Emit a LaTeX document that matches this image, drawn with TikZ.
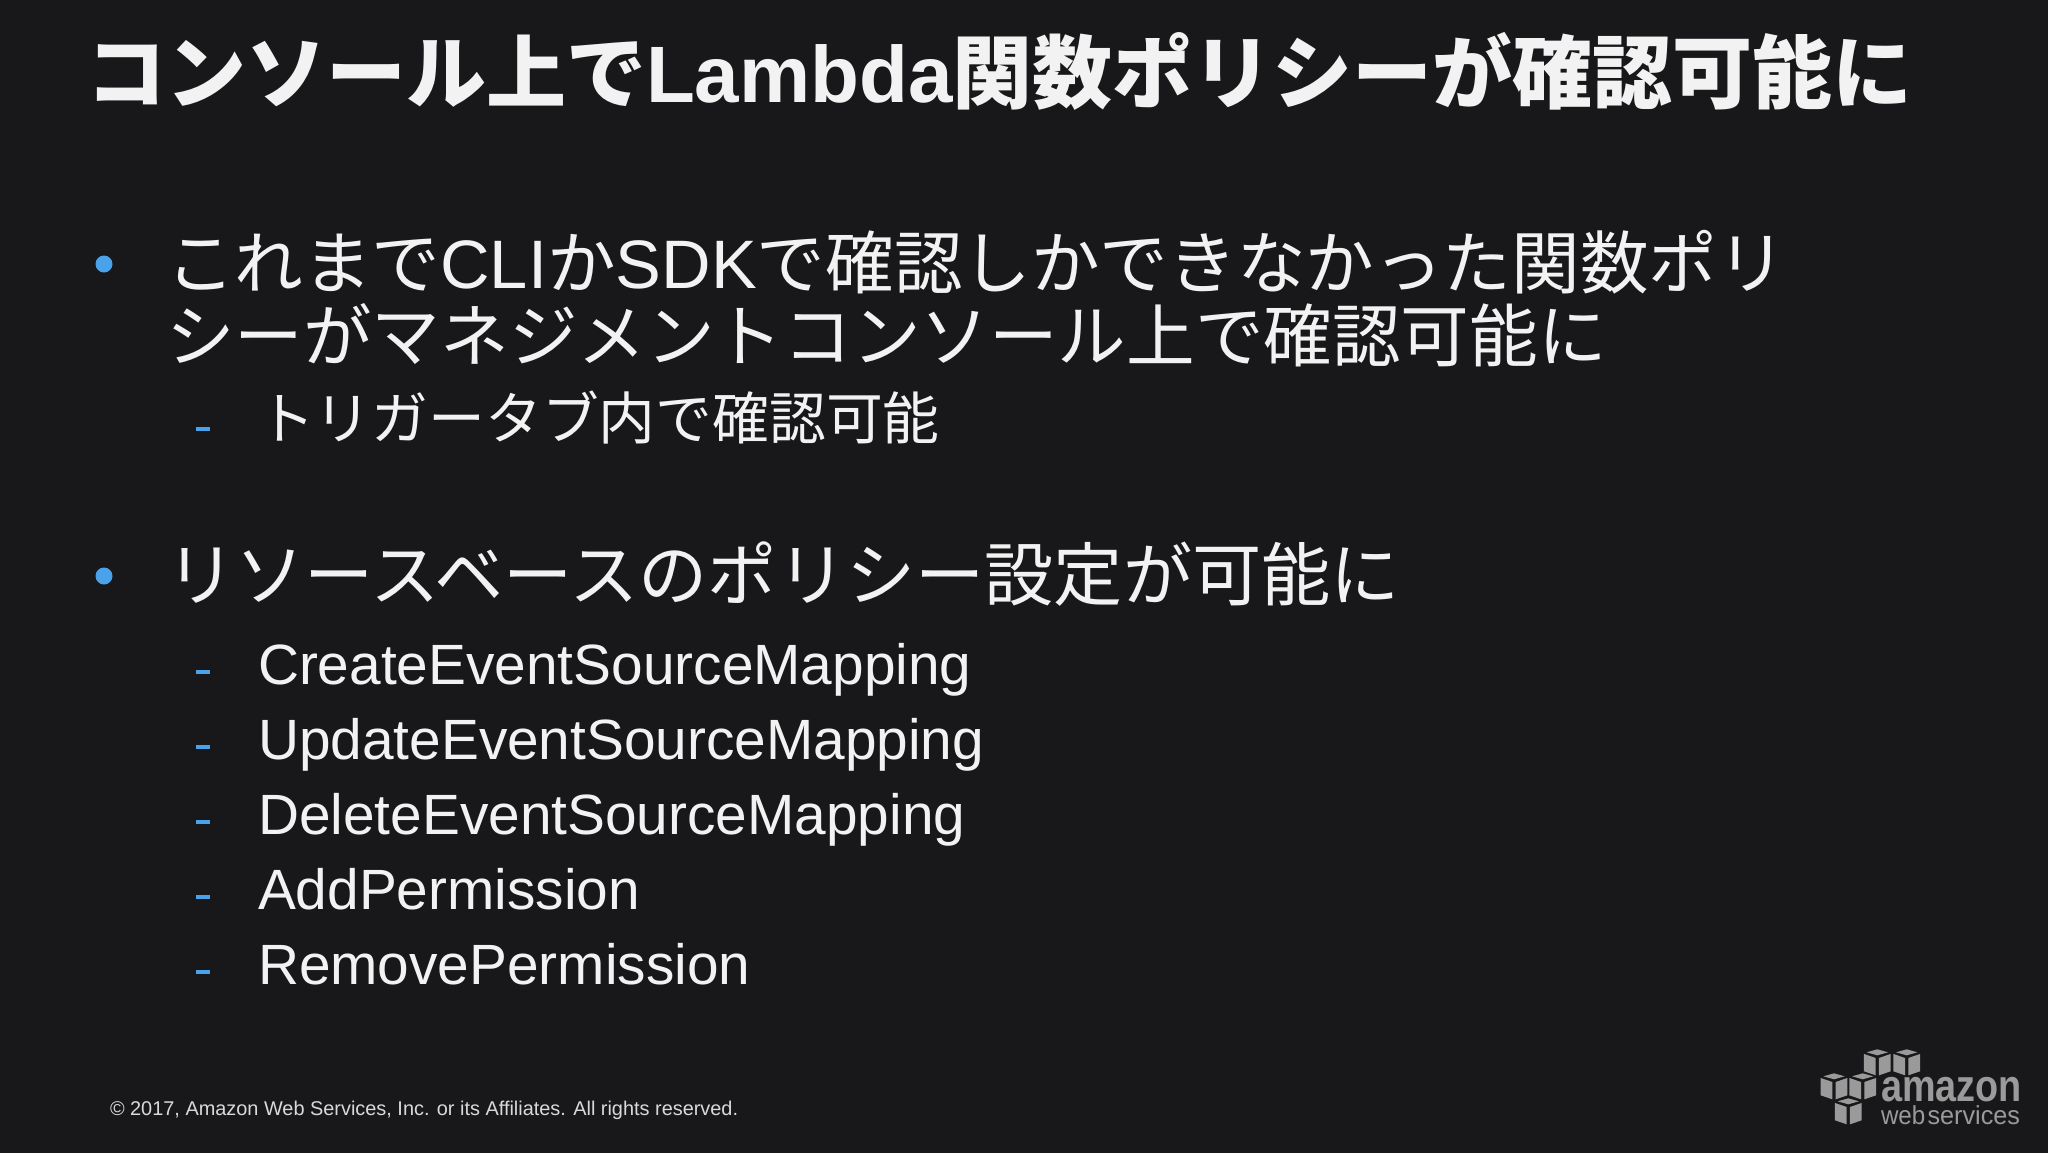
\documentclass[tikz,border=0pt]{standalone}
\usepackage{fontspec}
\setmainfont{Liberation Sans}
\newfontfamily\cjk{Noto Sans CJK JP}
\newcommand{\J}[1]{{\cjk #1}}
\definecolor{slidebg}{HTML}{18181A}
\definecolor{accent}{HTML}{4AA3EA}
\definecolor{logogray}{HTML}{9A9A9A}
\definecolor{ink}{HTML}{F2F2F2}
\tikzset{
  txt/.style={anchor=base west,inner sep=0pt,outer sep=0pt,text=ink},
  titletxt/.style={txt,font=\fontsize{80}{80}\selectfont\bfseries},
  bodytxt/.style={txt,font=\fontsize{68.6}{68.6}\selectfont},
  bodywide/.style={txt,font=\fontsize{69.2}{69.2}\selectfont},
  subtxt/.style={txt,font=\fontsize{56.8}{56.8}\selectfont},
  foot/.style={txt,text=white!85!black,font=\fontsize{19.9}{19.9}\selectfont},
  bulletdot/.style={fill=accent},
  subdash/.style={fill=accent},
  logoface/.style={fill=logogray},
  logotxt/.style={anchor=base west,inner sep=0pt,outer sep=0pt,text=logogray},
}
\newcommand{\bulletat}[1]{\fill[bulletdot] (104,#1) circle (8.5);}
\newcommand{\dashat}[1]{\fill[subdash] (196,#1-2) rectangle (210,#1+2);}
\newcommand{\logocube}[2]{%
  \begin{scope}[shift={(#1,#2)},xscale=0.3333,yscale=0.3333]
    \fill[logoface] (0,0)--(32,9)--(0,18)--(-32,9)--cycle;
    \fill[logoface] (-40,14)--(-5,26)--(-5,78)--(-40,66)--cycle;
    \fill[logoface] (40,14)--(5,26)--(5,78)--(40,66)--cycle;
  \end{scope}}
\begin{document}
\begin{tikzpicture}[x=1pt,y=-1pt]
\useasboundingbox (0,0) rectangle (2048,1152);
\fill[slidebg] (-3,-3) rectangle (2051,1155);
\node[titletxt] (title) at (86,102) {\J{コンソール上で}Lambda\J{関数ポリシーが確認可能に}};
\bulletat{264}
\node[bodytxt] (b1a) at (166,288) {\J{これまで}CLI\J{か}SDK\J{で確認しかできなかった関数ポリ}};
\node[bodytxt] (b1b) at (166,361) {\J{シーがマネジメントコンソール上で確認可能に}};
\dashat{429}
\node[subtxt] (s1) at (258,439) {\J{トリガータブ内で確認可能}};
\bulletat{576}
\node[bodywide] (b2) at (166,600) {\J{リソースベースのポリシー設定が可能に}};
\dashat{672}
\node[subtxt] (s2) at (258,684) {CreateEventSourceMapping};
\dashat{747}
\node[subtxt] (s3) at (258,759) {UpdateEventSourceMapping};
\dashat{822}
\node[subtxt] (s4) at (258,834) {DeleteEventSourceMapping};
\dashat{897}
\node[subtxt] (s5) at (258,909) {AddPermission};
\dashat{972}
\node[subtxt] (s6) at (258,984) {RemovePermission};
\node[foot] (footer) at (110,1115) {© 2017, Amazon Web Services, Inc. or its Affiliates. All rights reserved.};
\logocube{1877.3}{1049.3}
\logocube{1906.7}{1049.3}
\logocube{1834}{1073.3}
\logocube{1862.7}{1073.3}
\logocube{1848.3}{1098.3}
\node[logotxt,font=\fontsize{45}{45}\selectfont\bfseries,xscale=0.84] (amazon) at (1881,1101.5) {amazon};
\node[logotxt,font=\fontsize{26}{26}\selectfont,xscale=0.93] (web) at (1881,1124) {web};
\node[logotxt,font=\fontsize{26}{26}\selectfont,xscale=0.97] (services) at (1927.5,1124) {services};
\end{tikzpicture}
\end{document}
